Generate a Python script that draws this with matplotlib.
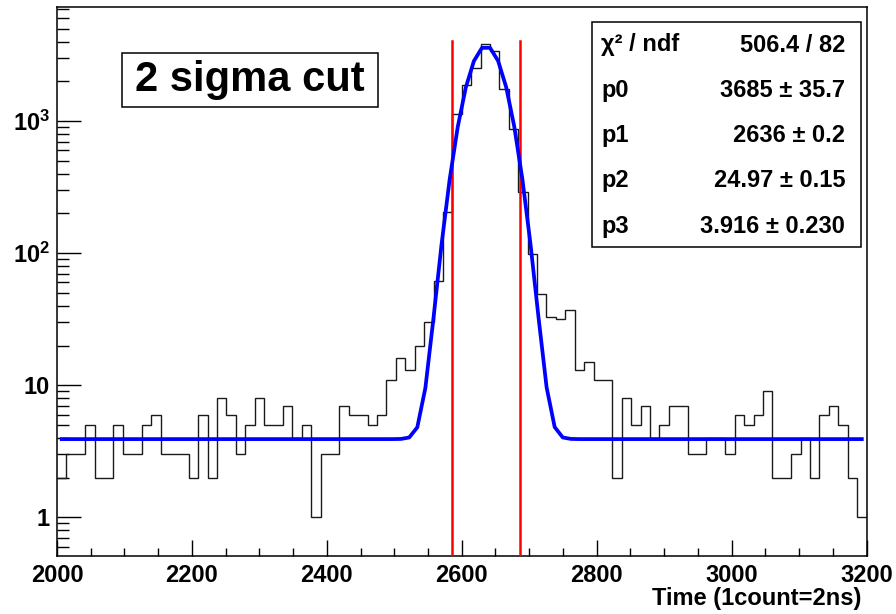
import numpy as np
import matplotlib
matplotlib.use('Agg')
import matplotlib.pyplot as plt
from matplotlib.ticker import MultipleLocator, LogLocator, FuncFormatter, NullFormatter
from matplotlib.patches import Rectangle

# ======================
# data
# ======================
x_min, x_max = 2000, 3200
counts = [2, 3, 3, 5, 2, 2, 5, 3, 3, 5,
          6, 3, 3, 3, 2, 6, 2, 8, 6, 3,
          5, 8, 5, 5, 7, 4, 5, 1, 3, 3,
          7, 6, 6, 5, 6, 11, 16, 13, 20, 30,
          62, 206, 1130, 1875, 2506, 3800, 3400, 1740, 865, 288,
          98, 49, 33, 32, 37, 13, 15, 11, 11, 2,
          8, 5, 7, 4, 5, 7, 7, 3, 3, 4,
          4, 3, 6, 5, 6, 9, 2, 2, 3, 4,
          2, 6, 7, 5, 2, 1]

# fit result (gaus + const) as printed in the stats box
p0, p0_err = 3685, 35.7
p1, p1_err = 2636, 0.2
p2, p2_err = 24.97, 0.15
p3, p3_err = 3.916, 0.230
chi2, ndf = 506.4, 82
n_sigma = 2
cut_top = 4050

xticks = [2000, 2200, 2400, 2600, 2800, 3000, 3200]
ylabels = {1: '1', 10: '10', 100: r'$\mathbf{10^{2}}$', 1000: r'$\mathbf{10^{3}}$'}

# ======================
# style
# ======================
plt.rcParams['font.family'] = ['Liberation Sans', 'DejaVu Sans']
plt.rcParams['font.weight'] = 'bold'
plt.rcParams['mathtext.fontset'] = 'custom'
plt.rcParams['mathtext.rm'] = 'Liberation Sans'
plt.rcParams['mathtext.bf'] = 'Liberation Sans:bold'

W, H = 896, 614


def fx(x):
    return x / W


def fy(y):
    return 1 - y / H


fig = plt.figure(figsize=(W / 100, H / 100), dpi=100)
ax = fig.add_axes([fx(57), fy(555.5), fx(866.5) - fx(57), fy(7) - fy(555.5)])

# histogram
edges = np.linspace(x_min, x_max, len(counts) + 1)
ax.stairs(counts, edges, color='#1a1a1a', linewidth=1.0, baseline=None, zorder=2)

# 2 sigma cut lines
for xc in (p1 - n_sigma * p2, p1 + n_sigma * p2):
    ax.plot([xc, xc], [0.1, cut_top], color='#ff0000', linewidth=1.8, zorder=3)

# fitted function, drawn like ROOT with 100 points over bin centres
w = edges[1] - edges[0]
xf = np.linspace(x_min + w / 2, x_max - w / 2, 100)
yf = p0 * np.exp(-0.5 * ((xf - p1) / p2) ** 2) + p3
ax.plot(xf, yf, color='#0000ff', linewidth=2.7, zorder=4)

ax.set_xlim(x_min, x_max)
ax.set_yscale('log')
ax.set_ylim(0.515, 7300)

# axes / ticks
ax.set_xticks(xticks)
ax.xaxis.set_minor_locator(MultipleLocator(50))
ax.yaxis.set_major_locator(LogLocator(base=10, subs=(1.0,)))
ax.yaxis.set_minor_locator(LogLocator(base=10, subs=np.arange(2, 10), numticks=20))
ax.yaxis.set_major_formatter(FuncFormatter(lambda v, pos: ylabels.get(int(round(v)), '')))
ax.yaxis.set_minor_formatter(NullFormatter())
ax.tick_params(axis='x', which='major', direction='in', length=11.5, width=1, pad=6, labelsize=17)
ax.tick_params(axis='x', which='minor', direction='in', length=5.5, width=1)
ax.tick_params(axis='y', which='major', direction='in', length=17, width=1, pad=5, labelsize=17)
ax.tick_params(axis='y', which='minor', direction='in', length=8.5, width=1)
for lab in ax.get_xticklabels() + ax.get_yticklabels():
    lab.set_fontweight('bold')
for sp in ax.spines.values():
    sp.set_linewidth(1.1)

fig.text(fx(861), fy(598), 'Time (1count=2ns)', ha='right', va='center',
         fontsize=17, fontweight='bold')

# "2 sigma cut" label box
fig.patches.append(Rectangle((fx(122), fy(107)), fx(378) - fx(122), fy(53) - fy(107),
                             transform=fig.transFigure, facecolor='white',
                             edgecolor='black', linewidth=1.1, zorder=5))
fig.text(fx(250), fy(80), '%d sigma cut' % n_sigma, ha='center', va='center',
         fontsize=30, fontweight='bold', zorder=6)

# stats box
fig.patches.append(Rectangle((fx(592), fy(247)), fx(861) - fx(592), fy(22) - fy(247),
                             transform=fig.transFigure, facecolor='white',
                             edgecolor='black', linewidth=1.1, zorder=5))
rows = [
    ('χ² / ndf', '%.1f / %d' % (chi2, ndf)),
    ('p0', '%d ± %.1f' % (p0, p0_err)),
    ('p1', '%d ± %.1f' % (p1, p1_err)),
    ('p2', '%.2f ± %.2f' % (p2, p2_err)),
    ('p3', '%.3f ± %.3f' % (p3, p3_err)),
]
for i, (name, val) in enumerate(rows):
    yy = 45 + 45.3 * i
    fig.text(fx(601), fy(yy), name, ha='left', va='center', fontsize=17, fontweight='bold', zorder=6)
    fig.text(fx(845), fy(yy), val, ha='right', va='center', fontsize=17, fontweight='bold', zorder=6)

plt.savefig('out.png', dpi=100)
plt.close()
